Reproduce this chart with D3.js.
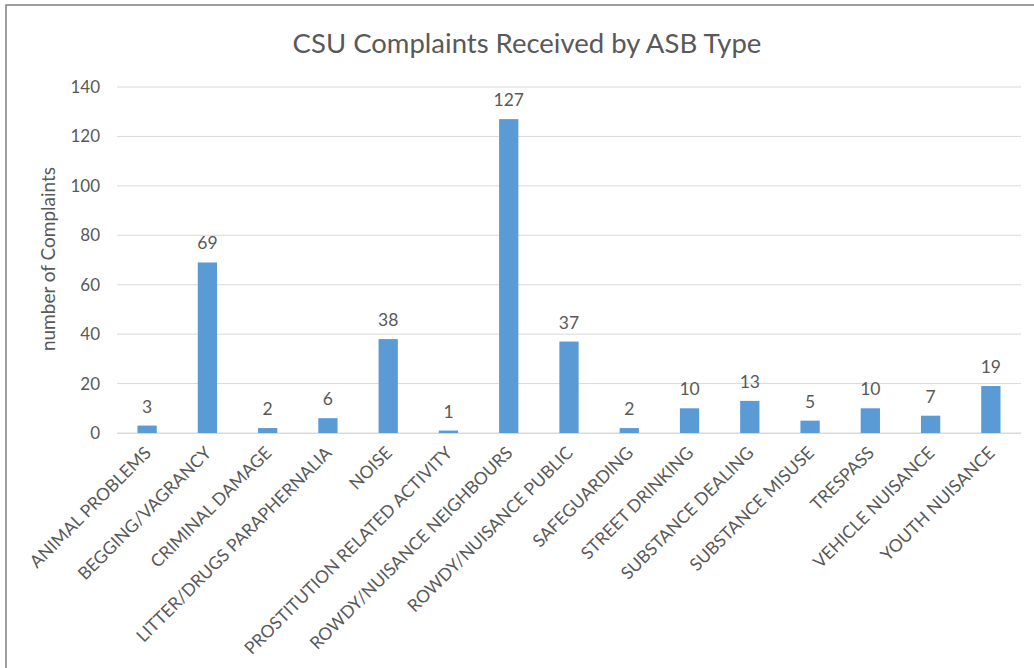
<!DOCTYPE html>
<html>
<head>
<title>CSU Complaints Received by ASB Type</title>
<script src="https://d3js.org/d3.v7.min.js"></script>
<style>
  body {margin: 0; background: #fff;}
  text {font-family: Lato, "Open Sans", sans-serif; fill: #595959;}
</style>
</head>
<body>
<svg width="1034" height="668"></svg>
<script>
var categories = ["ANIMAL PROBLEMS", "BEGGING/VAGRANCY", "CRIMINAL DAMAGE", "LITTER/DRUGS PARAPHERNALIA",
  "NOISE", "PROSTITUTION RELATED ACTIVITY", "ROWDY/NUISANCE NEIGHBOURS", "ROWDY/NUISANCE PUBLIC",
  "SAFEGUARDING", "STREET DRINKING", "SUBSTANCE DEALING", "SUBSTANCE MISUSE", "TRESPASS",
  "VEHICLE NUISANCE", "YOUTH NUISANCE"];
var complaints = [3, 69, 2, 6, 38, 1, 127, 37, 2, 10, 13, 5, 10, 7, 19];
var yTicks = [0, 20, 40, 60, 80, 100, 120, 140];

var svg = d3.select("svg");

// chart border
svg.append("rect").attr("x", 6).attr("y", 5).attr("width", 1040).attr("height", 680)
  .attr("fill", "none").attr("stroke", "#7f7f7f").attr("stroke-width", 1.5);

var plotLeft = 117, plotRight = 1021, plotTop = 87, plotBottom = 433;
var x = d3.scaleBand().domain(categories).range([plotLeft, plotRight]).paddingInner(0.68).paddingOuter(0.34);
var y = d3.scaleLinear().domain([0, 140]).range([plotBottom, plotTop]);

// gridlines
svg.append("g").selectAll("line").data(yTicks).enter().append("line")
  .attr("x1", plotLeft).attr("x2", plotRight)
  .attr("y1", d => y(d)).attr("y2", d => y(d))
  .attr("stroke", "#d9d9d9").attr("stroke-width", 1);

// y axis labels
var yAxis = svg.append("g").attr("transform", "translate(" + plotLeft + ",0)")
  .call(d3.axisLeft(y).tickValues(yTicks).tickSize(0).tickPadding(17));
yAxis.select(".domain").remove();
yAxis.selectAll("text").style("font-size", "17px").attr("fill", "#595959");

// bars
svg.append("g").selectAll("rect").data(complaints).enter().append("rect")
  .attr("x", (d, i) => x(categories[i]))
  .attr("width", x.bandwidth())
  .attr("y", d => y(d))
  .attr("height", d => y(0) - y(d))
  .attr("fill", "#5b9bd5");

// value labels
svg.append("g").selectAll("text").data(complaints).enter().append("text")
  .attr("x", (d, i) => x(categories[i]) + x.bandwidth() / 2)
  .attr("y", d => y(d) - 13)
  .attr("text-anchor", "middle")
  .style("font-size", "17.5px")
  .text(d => d);

// x axis labels
var xAxis = svg.append("g").attr("transform", "translate(0," + plotBottom + ")")
  .call(d3.axisBottom(x).tickSize(0).tickPadding(0));
xAxis.select(".domain").attr("stroke", "#d9d9d9");
xAxis.selectAll("text")
  .style("font-size", "17.5px").attr("fill", "#595959")
  .attr("text-anchor", "end")
  .attr("dy", "0")
  .attr("transform", "translate(5,21) rotate(-45)");

// y title
svg.append("text")
  .attr("transform", "translate(55,259) rotate(-90)")
  .attr("text-anchor", "middle")
  .style("font-size", "19px")
  .text("number of Complaints");

// title
svg.append("text")
  .attr("x", 527).attr("y", 53)
  .attr("text-anchor", "middle")
  .style("font-size", "27.5px")
  .text("CSU Complaints Received by ASB Type");
</script>
</body>
</html>
